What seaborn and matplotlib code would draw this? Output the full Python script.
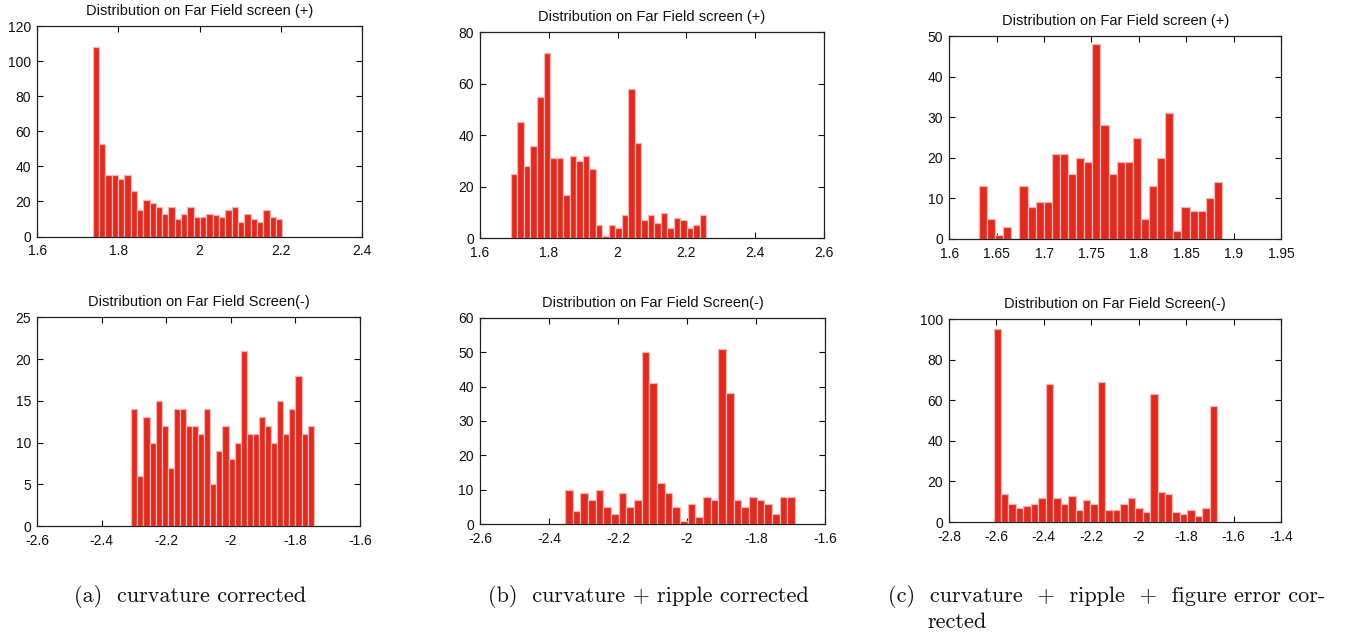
import numpy as np
import pandas as pd
import matplotlib
matplotlib.use("Agg")
import matplotlib.pyplot as plt
import seaborn as sns

sns.set_style("white")
plt.rcParams['font.family'] = ['Liberation Sans Narrow', 'Liberation Sans', 'DejaVu Sans']
plt.rcParams['axes.unicode_minus'] = False

# ---- data (bin counts, 30 bins per histogram) ----
a_plus_range = (1.7365, 2.204)
a_plus_counts = [108, 53, 35, 35, 33, 35, 26, 15, 21, 19, 17, 13, 17, 10, 13,
                 17, 11, 11, 13, 12, 11, 15, 17, 8, 13, 10, 8, 15, 11, 10]

b_plus_range = (1.690, 2.258)
b_plus_counts = [25, 45, 28, 36, 55, 72, 31, 31, 17, 32, 30, 32, 27, 5, 1,
                 5, 4, 9, 58, 37, 7, 9, 6, 10, 4, 8, 7, 4, 5, 9]

c_plus_range = (1.6313, 1.8877)
c_plus_counts = [13, 5, 1, 3, 0, 13, 8, 9, 9, 21, 21, 16, 20, 19, 48,
                 28, 16, 19, 19, 25, 5, 13, 20, 31, 2, 8, 7, 7, 10, 14]

a_minus_range = (-2.3087, -1.7436)
a_minus_counts = [14, 6, 13, 10, 15, 12, 7, 14, 14, 12, 12, 11, 14, 5, 9,
                  12, 8, 10, 21, 11, 11, 13, 12, 10, 15, 11, 14, 18, 11, 12]

b_minus_range = (-2.354, -1.687)
b_minus_counts = [10, 4, 9, 7, 10, 5, 3, 9, 5, 7, 50, 41, 12, 9, 5,
                  1, 6, 2, 8, 7, 51, 38, 7, 5, 8, 7, 6, 3, 8, 8]

c_minus_range = (-2.612, -1.6694)
c_minus_counts = [95, 14, 9, 7, 8, 9, 12, 68, 12, 9, 13, 6, 11, 9, 69,
                  6, 6, 9, 12, 7, 5, 63, 15, 14, 5, 4, 6, 3, 7, 57]

a_plus_xticks = [1.6, 1.8, 2.0, 2.2, 2.4]
b_plus_xticks = [1.6, 1.8, 2.0, 2.2, 2.4, 2.6]
c_plus_xticks = [1.6, 1.65, 1.7, 1.75, 1.8, 1.85, 1.9, 1.95]
a_minus_xticks = [-2.6, -2.4, -2.2, -2.0, -1.8, -1.6]
b_minus_xticks = [-2.6, -2.4, -2.2, -2.0, -1.8, -1.6]
c_minus_xticks = [-2.8, -2.6, -2.4, -2.2, -2.0, -1.8, -1.6, -1.4]

a_plus_yticks = [0, 20, 40, 60, 80, 100, 120]
b_plus_yticks = [0, 20, 40, 60, 80]
c_plus_yticks = [0, 10, 20, 30, 40, 50]
a_minus_yticks = [0, 5, 10, 15, 20, 25]
b_minus_yticks = [0, 10, 20, 30, 40, 50, 60]
c_minus_yticks = [0, 20, 40, 60, 80, 100]

title_plus = "Distribution on Far Field screen (+)"
title_minus = "Distribution on Far Field Screen(-)"

captions = ["(a)  curvature corrected",
            "(b)  curvature + ripple corrected",
            "(c)  curvature  +  ripple  +  figure error cor-"]
caption_c2 = "rected"

W, H = 1353, 637
fig = plt.figure(figsize=(W / 100, H / 100), dpi=100)


def box(l, r, t, b):
    return [l / W, 1 - b / H, (r - l) / W, (b - t) / H]


panels = [
    (box(37.3, 361.7, 26, 236.5), a_plus_range, a_plus_counts, a_plus_xticks, a_plus_yticks, title_plus),
    (box(480, 824, 32.3, 238.3), b_plus_range, b_plus_counts, b_plus_xticks, b_plus_yticks, title_plus),
    (box(949.3, 1281, 36, 239), c_plus_range, c_plus_counts, c_plus_xticks, c_plus_yticks, title_plus),
    (box(37.3, 360, 317.3, 526), a_minus_range, a_minus_counts, a_minus_xticks, a_minus_yticks, title_minus),
    (box(480, 825, 317.7, 524.3), b_minus_range, b_minus_counts, b_minus_xticks, b_minus_yticks, title_minus),
    (box(949, 1281, 319, 522), c_minus_range, c_minus_counts, c_minus_xticks, c_minus_yticks, title_minus),
]

for rect, rng, counts, xt, yt, title in panels:
    ax = fig.add_axes(rect)
    edges = np.linspace(rng[0], rng[1], len(counts) + 1)
    centers = (edges[:-1] + edges[1:]) / 2
    df = pd.DataFrame({"x": centers, "n": np.asarray(counts, dtype=float)})
    sns.histplot(data=df, x="x", weights="n", bins=[float(e) for e in edges], ax=ax,
                 color="#E0291F", alpha=1.0, edgecolor="#F6B4B0", linewidth=0.9)
    ax.set_xlim(xt[0], xt[-1])
    ax.set_ylim(yt[0], yt[-1])
    ax.set_xticks(xt)
    ax.set_xticklabels(["%g" % v for v in xt])
    ax.set_yticks(yt)
    ax.set_yticklabels(["%g" % v for v in yt])
    ax.set_xlabel("")
    ax.set_ylabel("")
    ax.tick_params(direction="in", length=4, width=0.8, top=True, right=True,
                   bottom=True, left=True, labelsize=10, colors="#111111")
    ax.tick_params(axis="x", pad=5.5)
    ax.tick_params(axis="y", pad=4.5)
    for s in ax.spines.values():
        s.set_visible(True)
        s.set_color("#222222")
        s.set_linewidth(0.9)
    ax.set_title(title, fontsize=10.5, pad=8, color="#111111")

cap_font = dict(family="cmr10", fontsize=16, color="#111111")
fig.text(190.5 / W, 1 - 596 / H, captions[0], ha="center", va="center", **cap_font)
fig.text(648 / W, 1 - 596 / H, captions[1], ha="center", va="center", **cap_font)
fig.text(888 / W, 1 - 596 / H, captions[2], ha="left", va="center", **cap_font)
fig.text(927 / W, 1 - 622 / H, caption_c2, ha="left", va="center", **cap_font)

fig.savefig("out.png", dpi=100, facecolor="white")
